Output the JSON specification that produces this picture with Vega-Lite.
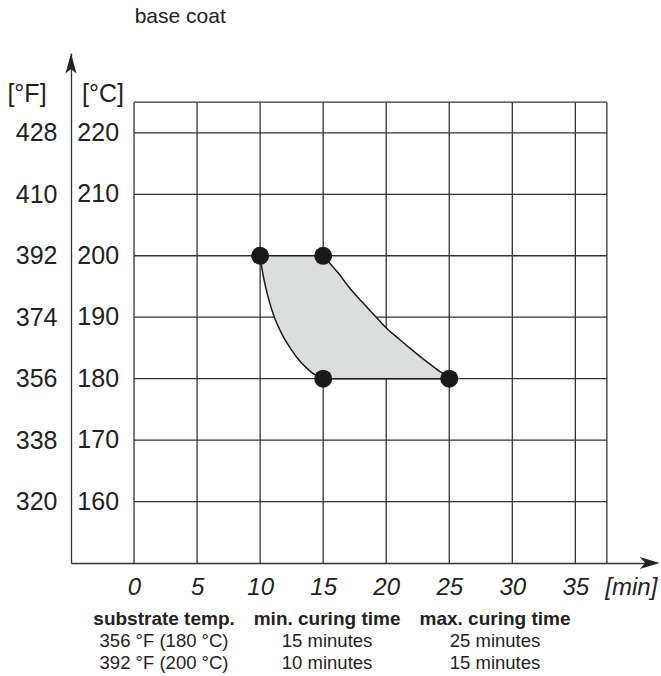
{
  "$schema": "https://vega.github.io/schema/vega-lite/v6.json",
  "width": 580,
  "height": 510,
  "autosize": {"type": "none"},
  "padding": {"left": 71, "top": 53, "right": 10, "bottom": 113},
  "background": "white",
  "config": {"view": {"stroke": null}, "font": "Liberation Sans", "text": {"font": "Liberation Sans", "color": "#222222"}},
  "datasets": {
    "vgrid": [{"m": 0}, {"m": 5}, {"m": 10}, {"m": 15}, {"m": 20}, {"m": 25}, {"m": 30}, {"m": 35}, {"m": 37.5}],
    "hgrid": [{"c": 160}, {"c": 170}, {"c": 180}, {"c": 190}, {"c": 200}, {"c": 210}, {"c": 220}, {"c": 225}],
    "zone": [
      {"t": 200, "left": 10, "right": 15},
      {"t": 198.5, "left": 10.1, "right": 15.65},
      {"t": 197, "left": 10.22, "right": 16.28},
      {"t": 195.5, "left": 10.37, "right": 16.82},
      {"t": 194, "left": 10.54, "right": 17.42},
      {"t": 192.5, "left": 10.74, "right": 18.08},
      {"t": 191, "left": 10.96, "right": 18.75},
      {"t": 189.5, "left": 11.22, "right": 19.43},
      {"t": 188, "left": 11.55, "right": 20.13},
      {"t": 186.5, "left": 11.92, "right": 21.0},
      {"t": 185, "left": 12.38, "right": 21.85},
      {"t": 183.5, "left": 12.9, "right": 22.75},
      {"t": 182, "left": 13.55, "right": 23.7},
      {"t": 181, "left": 14.1, "right": 24.38},
      {"t": 180.5, "left": 14.5, "right": 24.7},
      {"t": 180, "left": 15, "right": 25}
    ],
    "points": [{"m": 10, "c": 200}, {"m": 15, "c": 200}, {"m": 15, "c": 180}, {"m": 25, "c": 180}],
    "arrows": [{"m": -5, "c": 231.3, "dir": "up"}, {"m": 40.9, "c": 150, "dir": "right"}],
    "notes": [
      {"x": 0.05, "y": 237.9, "text": "base coat", "kind": "title"},
      {"x": -8.49, "y": 225, "text": "[°F]", "kind": "unit"},
      {"x": -2.46, "y": 225, "text": "[°C]", "kind": "unit"},
      {"x": 2.38, "y": 139.83, "text": "substrate temp.", "kind": "head"},
      {"x": 15.31, "y": 139.83, "text": "min. curing time", "kind": "head"},
      {"x": 28.63, "y": 139.83, "text": "max. curing time", "kind": "head"},
      {"x": 2.38, "y": 136.25, "text": "356 °F (180 °C)", "kind": "cell"},
      {"x": 15.31, "y": 136.25, "text": "15 minutes", "kind": "cell"},
      {"x": 28.63, "y": 136.25, "text": "25 minutes", "kind": "cell"},
      {"x": 2.38, "y": 132.67, "text": "392 °F (200 °C)", "kind": "cell"},
      {"x": 15.31, "y": 132.67, "text": "10 minutes", "kind": "cell"},
      {"x": 28.63, "y": 132.67, "text": "15 minutes", "kind": "cell"}
    ]
  },
  "layer": [
    {
      "data": {"name": "vgrid"},
      "mark": {"type": "rule", "stroke": "#333333", "strokeWidth": 1.3},
      "encoding": {
        "x": {"field": "m", "type": "quantitative", "scale": {"domain": [-5, 41], "nice": false, "zero": false},
          "axis": {"orient": "bottom", "values": [0, 5, 10, 15, 20, 25, 30, 35, 39.4], "labelExpr": "datum.value > 36 ? '[min]' : datum.label", "title": null, "grid": false, "ticks": false, "domain": true, "domainColor": "#333333", "domainWidth": 1.3, "labelFont": "Liberation Sans", "labelFontSize": 24, "labelFontStyle": "italic", "labelColor": "#222222", "labelPadding": 12, "labelFlush": false, "labelOverlap": false}},
        "y": {"datum": 150, "type": "quantitative", "scale": {"domain": [150, 233], "nice": false, "zero": false}},
        "y2": {"datum": 225}
      }
    },
    {
      "data": {"name": "hgrid"},
      "mark": {"type": "rule", "stroke": "#333333", "strokeWidth": 1.3},
      "encoding": {
        "y": {"field": "c", "type": "quantitative", "scale": {"domain": [150, 233], "nice": false, "zero": false},
          "axis": {"orient": "left", "values": [160, 170, 180, 190, 200, 210, 220], "labelExpr": "format(datum.value * 1.8 + 32, 'd')", "title": null, "grid": false, "ticks": false, "domain": true, "domainColor": "#333333", "domainWidth": 1.3, "labelFont": "Liberation Sans", "labelFontSize": 25, "labelColor": "#222222", "labelPadding": 14, "labelOverlap": false}},
        "x": {"datum": 0, "type": "quantitative", "scale": {"domain": [-5, 41], "nice": false, "zero": false}},
        "x2": {"datum": 37.5}
      }
    },
    {
      "data": {"name": "zone"},
      "mark": {"type": "area", "orient": "horizontal", "interpolate": "monotone", "fill": "#dcdddd", "fillOpacity": 1, "stroke": "#1a1a1a", "strokeWidth": 1.5},
      "encoding": {
        "y": {"field": "t", "type": "quantitative", "scale": {"domain": [150, 233], "nice": false, "zero": false}},
        "x": {"field": "left", "type": "quantitative", "scale": {"domain": [-5, 41], "nice": false, "zero": false}},
        "x2": {"field": "right"}
      }
    },
    {
      "data": {"name": "points"},
      "mark": {"type": "circle", "size": 324, "color": "#1a1a1a", "opacity": 1},
      "encoding": {
        "x": {"field": "m", "type": "quantitative", "scale": {"domain": [-5, 41], "nice": false, "zero": false}},
        "y": {"field": "c", "type": "quantitative", "scale": {"domain": [150, 233], "nice": false, "zero": false}}
      }
    },
    {
      "data": {"name": "arrows"},
      "mark": {"type": "point", "filled": true, "size": 400, "color": "#222222", "opacity": 1},
      "encoding": {
        "x": {"field": "m", "type": "quantitative", "scale": {"domain": [-5, 41], "nice": false, "zero": false}},
        "y": {"field": "c", "type": "quantitative", "scale": {"domain": [150, 233], "nice": false, "zero": false}},
        "shape": {"field": "dir", "type": "nominal", "scale": {"domain": ["up", "right"], "range": ["M0,-1L0.55,1L0,0.55L-0.55,1Z", "M1,0L-1,-0.6L-0.45,0L-1,0.6Z"]}, "legend": null}
      }
    },
    {
      "data": {"name": "hgrid"},
      "transform": [{"filter": "datum.c <= 220"}],
      "mark": {"type": "text", "align": "right", "baseline": "middle", "fontSize": 25, "dx": -15, "color": "#222222"},
      "encoding": {
        "x": {"datum": 0, "type": "quantitative", "scale": {"domain": [-5, 41], "nice": false, "zero": false}},
        "y": {"field": "c", "type": "quantitative", "scale": {"domain": [150, 233], "nice": false, "zero": false}},
        "text": {"field": "c", "type": "quantitative", "format": "d"}
      }
    },
    {
      "data": {"name": "notes"},
      "transform": [{"filter": "datum.kind == 'title'"}],
      "mark": {"type": "text", "align": "left", "baseline": "alphabetic", "fontSize": 21, "color": "#222222"},
      "encoding": {
        "x": {"field": "x", "type": "quantitative", "scale": {"domain": [-5, 41], "nice": false, "zero": false}},
        "y": {"field": "y", "type": "quantitative", "scale": {"domain": [150, 233], "nice": false, "zero": false}},
        "text": {"field": "text", "type": "nominal"}
      }
    },
    {
      "data": {"name": "notes"},
      "transform": [{"filter": "datum.kind == 'unit'"}],
      "mark": {"type": "text", "align": "center", "baseline": "alphabetic", "fontSize": 25, "color": "#222222"},
      "encoding": {
        "x": {"field": "x", "type": "quantitative", "scale": {"domain": [-5, 41], "nice": false, "zero": false}},
        "y": {"field": "y", "type": "quantitative", "scale": {"domain": [150, 233], "nice": false, "zero": false}},
        "text": {"field": "text", "type": "nominal"}
      }
    },
    {
      "data": {"name": "notes"},
      "transform": [{"filter": "datum.kind == 'head'"}],
      "mark": {"type": "text", "align": "center", "baseline": "alphabetic", "fontSize": 19, "fontWeight": "bold", "color": "#222222"},
      "encoding": {
        "x": {"field": "x", "type": "quantitative", "scale": {"domain": [-5, 41], "nice": false, "zero": false}},
        "y": {"field": "y", "type": "quantitative", "scale": {"domain": [150, 233], "nice": false, "zero": false}},
        "text": {"field": "text", "type": "nominal"}
      }
    },
    {
      "data": {"name": "notes"},
      "transform": [{"filter": "datum.kind == 'cell'"}],
      "mark": {"type": "text", "align": "center", "baseline": "alphabetic", "fontSize": 18.5, "color": "#222222"},
      "encoding": {
        "x": {"field": "x", "type": "quantitative", "scale": {"domain": [-5, 41], "nice": false, "zero": false}},
        "y": {"field": "y", "type": "quantitative", "scale": {"domain": [150, 233], "nice": false, "zero": false}},
        "text": {"field": "text", "type": "nominal"}
      }
    }
  ]
}
